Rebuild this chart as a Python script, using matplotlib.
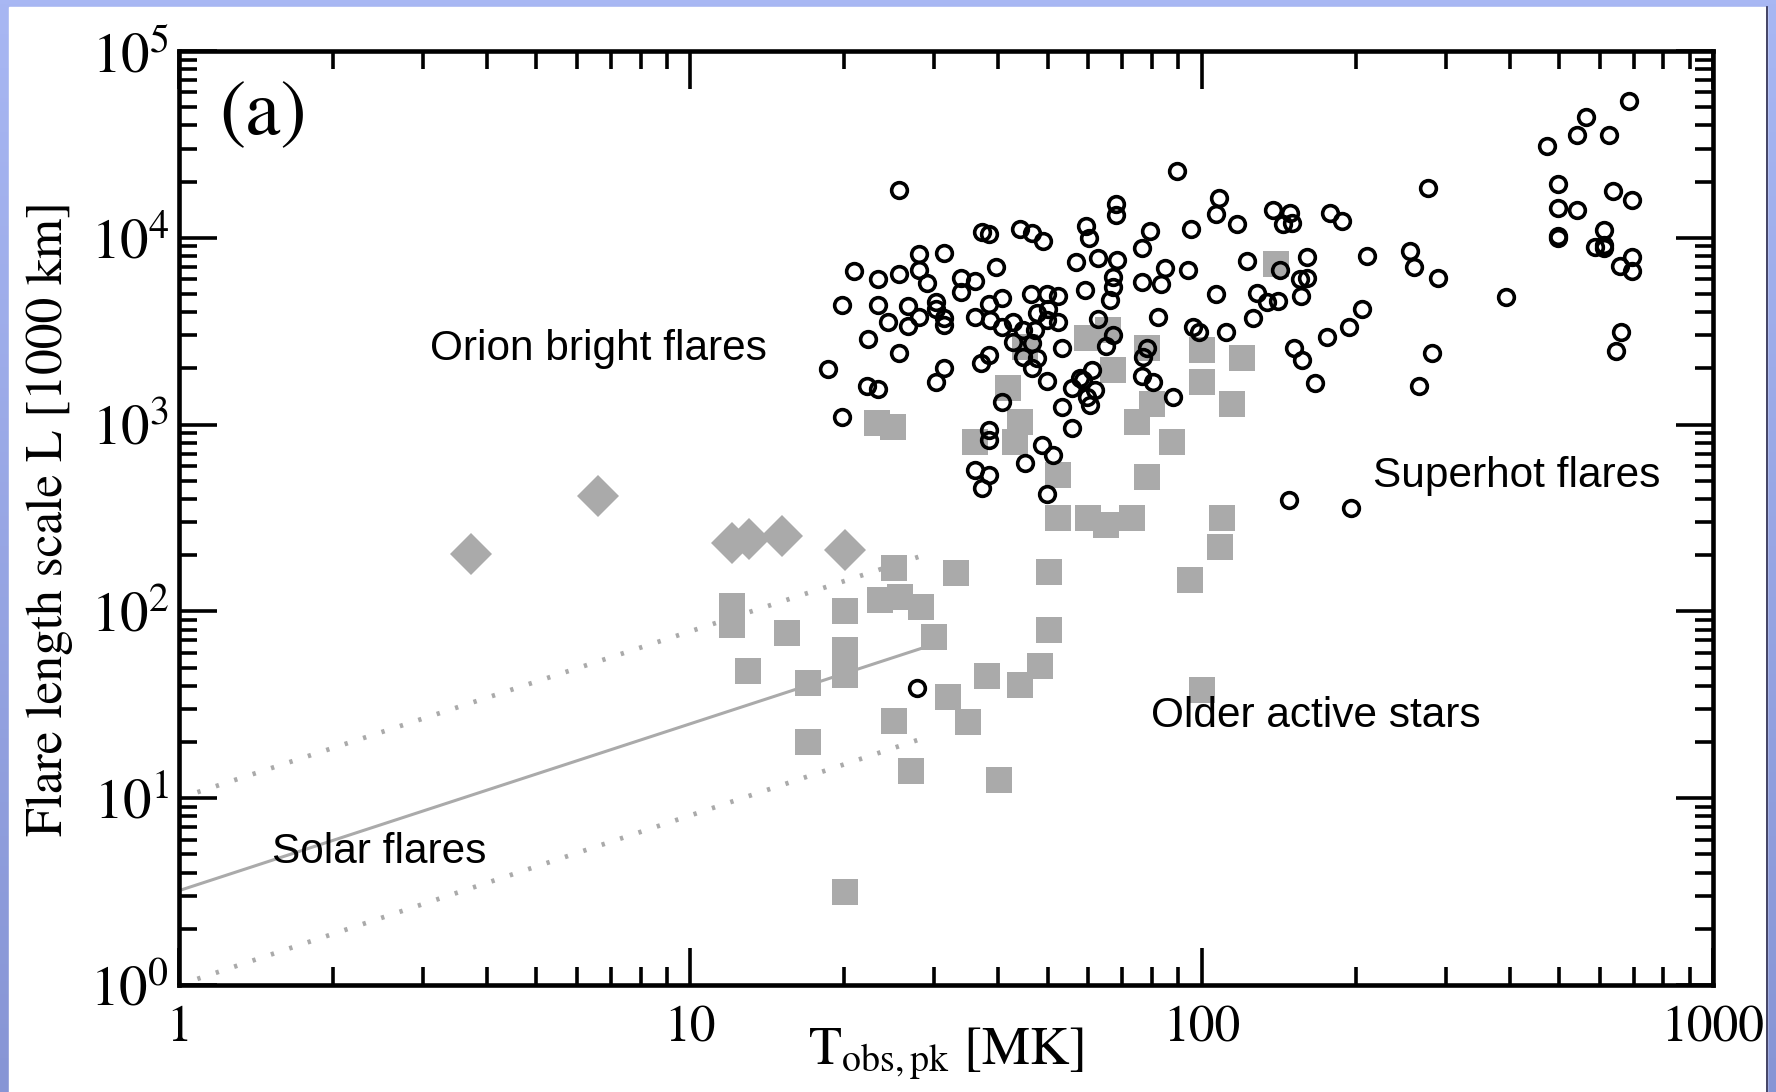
import numpy as np
import matplotlib
matplotlib.use('Agg')
import matplotlib.pyplot as plt
from matplotlib.patches import Rectangle
from matplotlib.colors import LinearSegmentedColormap
from matplotlib.ticker import LogLocator, NullFormatter

plt.rcParams['font.family'] = 'STIXGeneral'
plt.rcParams['mathtext.fontset'] = 'stix'

# open circles: Orion bright flares and superhot flares (T [MK], L [1000 km])
circ_T = [25.6, 37.2, 38.4, 44.1, 46.6, 48.9, 59.4, 60.2, 68.0, 68.0,
          28.0, 31.3, 20.9, 23.3, 25.6, 28.0, 29.0, 33.8, 36.0, 33.8,
          39.6, 56.8, 62.7, 68.3, 19.8, 23.3, 24.4, 26.7, 28.0, 26.7,
          30.2, 30.2, 31.3, 31.3, 36.0, 38.4, 40.7, 38.5, 40.7, 46.4,
          49.8, 52.4, 50.1, 52.4, 49.8, 42.8, 44.7, 47.2, 42.8, 46.6,
          44.7, 47.6, 46.6, 59.1, 67.1, 67.1, 66.2, 62.7, 67.1, 65.0,
          53.3, 22.3, 25.6, 18.6, 31.3, 30.2, 37.0, 38.4, 22.2, 23.3,
          19.8, 40.7, 49.8, 53.3, 55.7, 55.7, 58.6, 61.0, 59.7, 61.8,
          60.5, 38.4, 38.4, 48.7, 51.2, 45.1, 36.0, 38.4, 37.2, 49.8,
          47.6, 57.8,
          89.5, 108.1, 106.7, 79.2, 95.3, 117.2, 137.9, 148.9, 144.2, 150.3,
          178.2, 188.2, 277.2, 76.4, 84.8, 94.0, 83.3, 76.4, 122.7, 160.7,
          142.3, 155.7, 160.7, 156.4, 210.6, 255.5, 260.2, 289.8, 106.7, 128.3,
          134.2, 141.0, 126.0, 82.2, 96.2, 98.8, 111.6, 205.9, 194.1, 175.8,
          151.6, 157.1, 166.6, 282.2, 266.1, 78.2, 76.8, 76.4, 80.3, 87.9,
          148.2, 195.9, 27.7,
          685, 565, 542, 626, 474, 498, 638, 695, 498, 542,
          498, 498, 612, 588, 612, 612, 695, 658, 695, 661,
          646, 394]
circ_L = [18000, 10740, 10480, 11150, 10610, 9610, 11560, 9970, 15170, 13250,
          8190, 8290, 6640, 6020, 6400, 6720, 5730, 6090, 5870, 5130,
          6980, 7420, 7790, 7610, 4370, 4370, 3540, 4310, 3770, 3370,
          4530, 4160, 3720, 3410, 3770, 4420, 4760, 3630, 3330, 5000,
          5000, 4880, 4160, 3540, 3630, 3540, 3210, 3210, 2770, 2730,
          2300, 2270, 2010, 5260, 6170, 5450, 4650, 3680, 3020, 2640,
          2570, 2870, 2420, 1985, 2010, 1690, 2140, 2360, 1610, 1550,
          1100, 1320, 1710, 1240, 959, 1570, 1730, 1960, 1410, 1530,
          1270, 936, 827, 778, 688, 623, 571, 537, 458, 425,
          3960, 1780,
          22790, 16340, 13410, 10870, 11150, 11860, 14090, 13580, 11860, 12000,
          13580, 12300, 18490, 8820, 6890, 6720, 5660, 5800, 7510, 7890,
          6720, 6020, 6090, 4880, 7990, 8500, 6980, 6090, 5000, 5060,
          4530, 4590, 3720, 3770, 3330, 3130, 3130, 4160, 3330, 2940,
          2570, 2220, 1670, 2420, 1610, 2570, 2300, 1820, 1690, 1410,
          395, 358, 38.9,
          54000, 44350, 35500, 35500, 31000, 19400, 17800, 15940, 14440, 14090,
          10220, 9970, 11010, 8930, 9150, 8820, 7890, 7060, 6640, 3130,
          2480, 4820]

# grey squares: older active stars
sq_T = [12.06, 12.06, 15.45, 12.97, 17.0, 17.0, 20.07, 20.07, 20.07, 20.07,
        25.0, 23.5, 25.7, 28.3, 33.1, 30.0, 25.0, 31.9, 34.9, 38.0,
        44.1, 48.3, 27.0, 40.2, 50.3, 50.3, 100.1, 94.9, 109.6, 108.6,
        23.2, 24.9, 41.8, 44.1, 36.0, 43.2, 52.4, 52.4, 59.9, 65.0,
        73.1, 78.2, 87.5, 74.7, 80.0, 114.6, 67.1, 59.7, 65.6, 78.2,
        100.1, 100.1, 119.9, 139.8, 45.1]
sq_L = [106.9, 84.6, 76.6, 48.0, 41.4, 20.0, 100.5, 62.1, 45.6, 3.15,
        171, 115.1, 119.4, 105.6, 160.6, 72.9, 25.9, 34.8, 25.6, 45.1,
        40.4, 51.0, 14.0, 12.5, 163, 79.5, 37.9, 147.3, 316, 221,
        1020, 971, 1570, 1030, 807, 807, 537, 316, 316, 290,
        316, 524, 807, 1030, 1290, 1290, 1960, 2910, 3210, 2570,
        2510, 1690, 2270, 7240, 2600]

# grey diamonds
dia_T = [3.72, 6.60, 12.06, 13.02, 15.1, 20.07]
dia_L = [203, 415, 232, 244, 253, 213]

# solar flare scaling and its spread
fit_T = [1.0, 28.6]
fit_mid = [3.2, 64]
fit_hi = [10, 200]
fit_lo = [1.0, 21]

x_ticks = [1, 10, 100, 1000]
x_tick_labels = ['1', '10', '100', '1000']
y_ticks = [1, 10, 100, 1e3, 1e4, 1e5]
y_tick_labels = ['$10^{0}$', '$10^{1}$', '$10^{2}$', '$10^{3}$', '$10^{4}$', '$10^{5}$']

W, H = 1776, 1092
fig = plt.figure(figsize=(W / 100, H / 100), dpi=100)

# blue slide frame with white panel
bg = fig.add_axes([0, 0, 1, 1], zorder=-10)
frame_cmap = LinearSegmentedColormap.from_list('frame', ['#a8b7f3', '#8795d5'])
bg.imshow(np.linspace(0, 1, 256).reshape(-1, 1), aspect='auto', cmap=frame_cmap,
          extent=[0, 1, 0, 1], origin='upper')
bg.add_patch(Rectangle((9 / W, 0), (1767 - 9) / W, 1 - 7 / H, color='white'))
bg.plot([1767 / W, 1767 / W], [0, 1 - 7 / H], color='#23234a', lw=1.2)
bg.set_xlim(0, 1)
bg.set_ylim(0, 1)
bg.axis('off')

ax = fig.add_axes([179 / W, 1 - 985 / H, 1534 / W, 934 / H])
ax.set_facecolor('none')
ax.set_xscale('log')
ax.set_yscale('log')

grey = '#aaaaaa'
ax.plot(fit_T, fit_mid, color=grey, lw=2.2, zorder=1)
ax.plot(fit_T, fit_hi, color=grey, lw=3.4, ls=(0, (0.7, 3.4)), zorder=1)
ax.plot(fit_T, fit_lo, color=grey, lw=3.4, ls=(0, (0.7, 3.4)), zorder=1)

ax.plot(sq_T, sq_L, 's', color=grey, ms=18.7, mew=0, zorder=2)
ax.plot(dia_T, dia_L, 'D', color=grey, ms=21, mew=0, zorder=2)
ax.plot(circ_T, circ_L, 'o', mfc='none', mec='black', ms=11.3, mew=2.6, zorder=3)

ax.set_xlim(1, 1000)
ax.set_ylim(1, 1e5)
ax.set_xticks(x_ticks)
ax.set_xticklabels(x_tick_labels)
ax.set_yticks(y_ticks)
ax.set_yticklabels(y_tick_labels)
ax.xaxis.set_minor_locator(LogLocator(base=10, subs=np.arange(2, 10), numticks=20))
ax.yaxis.set_minor_locator(LogLocator(base=10, subs=np.arange(2, 10), numticks=20))
ax.xaxis.set_minor_formatter(NullFormatter())
ax.yaxis.set_minor_formatter(NullFormatter())

ax.tick_params(which='both', direction='in', top=True, right=True, width=2.6)
ax.tick_params(which='major', length=27)
ax.tick_params(which='minor', length=13)
ax.tick_params(axis='x', pad=15, labelsize=37)
ax.tick_params(axis='y', pad=7, labelsize=41)
for sp in ax.spines.values():
    sp.set_linewidth(3.3)

ax.set_xlabel(r'$\mathrm{T}_{\mathrm{obs,pk}}$ [MK]', fontsize=39)
ax.xaxis.set_label_coords(0.5, -0.043)
ax.set_ylabel('Flare length scale L [1000 km]', fontsize=37)
ax.yaxis.set_label_coords(-0.069, 0.5)

ax.text(0.026, 0.930, '(a)', transform=ax.transAxes, fontsize=57, va='center')

sans = 'Liberation Sans'
ax.text(3.10, 2540, 'Orion bright flares', family=sans, fontsize=30.5, va='center')
ax.text(216, 531, 'Superhot flares', family=sans, fontsize=30.5, va='center')
ax.text(79.6, 27.5, 'Older active stars', family=sans, fontsize=30.5, va='center')
ax.text(1.52, 5.15, 'Solar flares', family=sans, fontsize=30.5, va='center')

fig.savefig('out.png', dpi=100)
